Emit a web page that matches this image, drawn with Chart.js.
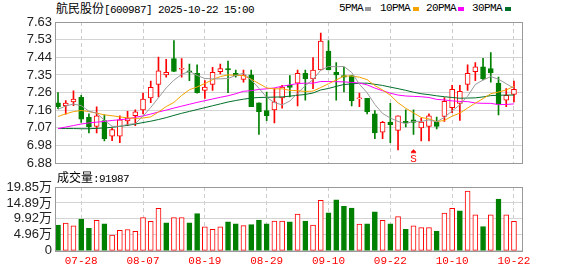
<!DOCTYPE html>
<html>
<head>
<meta charset="utf-8">
<script src="https://cdn.jsdelivr.net/npm/chart.js@4/dist/chart.umd.min.js"></script>
<style>
body { margin: 0; background: #fff; width: 578px; height: 276px; overflow: hidden; position: relative; font-family: "Noto Sans CJK SC", sans-serif; }
canvas { position: absolute; left: 0; }
#kline { top: 0; }
#vol { top: 172px; }
.txt { position: absolute; font-size: 12px; line-height: 14px; color: #000; white-space: nowrap; }
.mono { font-family: "Liberation Mono", monospace; font-size: 11px; letter-spacing: -0.6px; }
.sw { position: absolute; width: 6px; height: 4px; top: 7px; }
</style>
</head>
<body>
<div class="txt" style="left:56px;top:1px">航民股份<span class="mono">[600987] 2025-10-22 15:00</span></div>
<div class="txt mono" style="left:339px;top:1px">5PMA</div><div class="sw" style="left:365px;background:#999999"></div>
<div class="txt mono" style="left:380px;top:1px">10PMA</div><div class="sw" style="left:413px;background:#f5a300"></div>
<div class="txt mono" style="left:426px;top:1px">20PMA</div><div class="sw" style="left:458px;background:#ff00ff"></div>
<div class="txt mono" style="left:472px;top:1px">30PMA</div><div class="sw" style="left:505px;background:#006f2a"></div>
<canvas id="kline" width="578" height="174"></canvas>
<canvas id="vol" width="578" height="104"></canvas>
<div class="txt" id="volTitle" style="left:57px;top:170px"></div>
<script>
const dates = ['07-23','07-24','07-25','07-28','07-29','07-30','07-31','08-01','08-04','08-05',
  '08-06','08-07','08-08','08-11','08-12','08-13','08-14','08-15','08-18','08-19',
  '08-20','08-21','08-22','08-25','08-26','08-27','08-28','08-29','09-01','09-02',
  '09-03','09-04','09-05','09-08','09-09','09-10','09-11','09-12','09-15','09-16',
  '09-17','09-18','09-19','09-22','09-23','09-24','09-25','09-26','09-29','09-30',
  '10-09','10-10','10-13','10-14','10-15','10-16','10-17','10-20','10-21','10-22'];

const opens = [7.200, 7.185, 7.205, 7.230, 7.123, 7.076, 7.107, 7.024, 7.024, 7.105,
  7.132, 7.163, 7.227, 7.298, 7.349, 7.436, 7.379, 7.371, 7.357, 7.267,
  7.298, 7.366, 7.383, 7.357, 7.325, 7.349, 7.201, 7.159, 7.163, 7.227,
  7.293, 7.305, 7.357, 7.328, 7.375, 7.475, 7.363, 7.345, 7.345, 7.222,
  7.224, 7.142, 7.045, 7.099, 7.054, 7.102, 7.111, 7.068, 7.076, 7.099,
  7.128, 7.175, 7.198, 7.298, 7.366, 7.392, 7.383, 7.305, 7.215, 7.245];
const highs = [7.255, 7.213, 7.265, 7.240, 7.142, 7.180, 7.137, 7.067, 7.132, 7.155,
  7.163, 7.253, 7.316, 7.444, 7.432, 7.531, 7.436, 7.406, 7.403, 7.319,
  7.389, 7.406, 7.423, 7.375, 7.375, 7.375, 7.201, 7.258, 7.276, 7.293,
  7.345, 7.375, 7.375, 7.441, 7.571, 7.531, 7.415, 7.389, 7.345, 7.253,
  7.224, 7.160, 7.102, 7.198, 7.132, 7.163, 7.163, 7.120, 7.142, 7.125,
  7.229, 7.293, 7.293, 7.403, 7.415, 7.437, 7.467, 7.337, 7.276, 7.316];
const lows = [7.170, 7.141, 7.185, 7.097, 7.041, 7.041, 6.998, 7.000, 6.989, 7.080,
  7.080, 7.142, 7.201, 7.232, 7.337, 7.366, 7.337, 7.319, 7.252, 7.224,
  7.267, 7.354, 7.255, 7.337, 7.311, 7.180, 7.033, 7.106, 7.094, 7.172,
  7.232, 7.184, 7.215, 7.276, 7.375, 7.375, 7.215, 7.258, 7.184, 7.180,
  7.142, 7.010, 7.010, 6.989, 6.951, 7.073, 7.033, 6.998, 6.998, 7.062,
  7.102, 7.149, 7.107, 7.267, 7.319, 7.323, 7.311, 7.137, 7.180, 7.206];
const closes = [7.180, 7.199, 7.220, 7.114, 7.073, 7.132, 7.010, 7.059, 7.111, 7.120,
  7.153, 7.220, 7.283, 7.371, 7.363, 7.367, 7.383, 7.363, 7.255, 7.284,
  7.363, 7.383, 7.375, 7.343, 7.348, 7.180, 7.154, 7.132, 7.206, 7.284,
  7.282, 7.357, 7.328, 7.375, 7.528, 7.375, 7.349, 7.337, 7.212, 7.225,
  7.154, 7.041, 7.097, 7.085, 7.132, 7.094, 7.097, 7.099, 7.132, 7.076,
  7.208, 7.272, 7.262, 7.357, 7.392, 7.328, 7.359, 7.192, 7.241, 7.272];

const volumes = [80400, 86100, 77600, 98400, 69900, 94700, 84100, 49000, 63300, 66200,
  60500, 103200, 91800, 131800, 87000, 103200, 103200, 87000, 115500, 74700,
  67000, 74700, 89800, 84100, 78400, 81300, 95500, 84100, 92700, 92700,
  89800, 114600, 92700, 80400, 157400, 118400, 158300, 138300, 132600, 83300,
  84100, 121200, 94700, 84100, 106100, 67000, 77600, 71900, 71900, 61300,
  117500, 131800, 124100, 186000, 111800, 75600, 111800, 161100, 111800, 91987];

const ma5 = [7.166, 7.184, 7.194, 7.186, 7.156, 7.146, 7.108, 7.076, 7.076, 7.086,
  7.090, 7.130, 7.176, 7.228, 7.280, 7.321, 7.352, 7.368, 7.346, 7.330,
  7.328, 7.328, 7.330, 7.346, 7.358, 7.322, 7.278, 7.230, 7.202, 7.190,
  7.210, 7.252, 7.292, 7.324, 7.374, 7.394, 7.392, 7.394, 7.362, 7.300,
  7.254, 7.192, 7.144, 7.120, 7.102, 7.090, 7.102, 7.102, 7.110, 7.100,
  7.124, 7.158, 7.190, 7.236, 7.298, 7.322, 7.340, 7.326, 7.302, 7.278];
const ma10 = [7.128, 7.142, 7.154, 7.160, 7.154, 7.146, 7.137, 7.132, 7.126, 7.121,
  7.118, 7.120, 7.126, 7.152, 7.181, 7.203, 7.240, 7.270, 7.285, 7.303,
  7.324, 7.340, 7.349, 7.347, 7.345, 7.326, 7.303, 7.280, 7.275, 7.275,
  7.267, 7.265, 7.261, 7.263, 7.282, 7.302, 7.322, 7.343, 7.343, 7.337,
  7.324, 7.292, 7.269, 7.241, 7.201, 7.172, 7.147, 7.123, 7.115, 7.101,
  7.107, 7.130, 7.146, 7.173, 7.199, 7.223, 7.249, 7.258, 7.269, 7.288];
const ma20 = [7.064, 7.072, 7.080, 7.088, 7.094, 7.098, 7.102, 7.107, 7.111, 7.115,
  7.124, 7.131, 7.141, 7.152, 7.162, 7.173, 7.183, 7.193, 7.203, 7.212,
  7.221, 7.230, 7.238, 7.249, 7.262, 7.265, 7.272, 7.275, 7.280, 7.289,
  7.296, 7.303, 7.305, 7.305, 7.314, 7.314, 7.313, 7.312, 7.309, 7.306,
  7.296, 7.279, 7.265, 7.252, 7.242, 7.237, 7.235, 7.233, 7.229, 7.219,
  7.216, 7.211, 7.208, 7.207, 7.200, 7.198, 7.198, 7.191, 7.192, 7.195];
const ma30 = [7.064, 7.064, 7.064, 7.063, 7.063, 7.065, 7.067, 7.071, 7.076, 7.081,
  7.088, 7.096, 7.103, 7.112, 7.122, 7.134, 7.145, 7.155, 7.165, 7.175,
  7.185, 7.195, 7.205, 7.213, 7.220, 7.226, 7.229, 7.230, 7.231, 7.232,
  7.236, 7.241, 7.245, 7.253, 7.269, 7.277, 7.288, 7.298, 7.301, 7.305,
  7.305, 7.299, 7.293, 7.284, 7.276, 7.267, 7.257, 7.249, 7.244, 7.238,
  7.233, 7.229, 7.225, 7.226, 7.227, 7.232, 7.239, 7.241, 7.242, 7.242];

const priceTicks = ['6.88', '6.98', '7.07', '7.16', '7.26', '7.35', '7.44', '7.53', '7.63'];
const priceMin = 6.88, priceMax = 7.63;
const volTicks = ['0', '4.96万', '9.92万', '14.89万', '19.85万'];
const volMax = 198500;
const signalIndex = 46;

const RED = '#ff0000', GREEN = '#008000';
const up = closes.map((c, i) => c >= opens[i]);
const volUp = closes.map((c, i) => c > (i ? closes[i - 1] : opens[0]));
const dateTicks = dates.map((d, i) => i).filter(i => i % 8 === 3);
const xy = arr => arr.map((v, i) => ({ x: i, y: v }));

document.getElementById('volTitle').innerHTML = '成交量<span class="mono">:' + volumes[volumes.length - 1] + '</span>';

Chart.defaults.font.family = '"Liberation Sans", "Noto Sans CJK SC", sans-serif';
Chart.defaults.animation = false;

// frame around plot area
const frame = {
    id: 'frame',
    afterDraw(chart) {
        const { ctx, chartArea: a } = chart;
        ctx.save();
        ctx.strokeStyle = '#999999';
        ctx.lineWidth = 1;
        ctx.strokeRect(Math.round(a.left) + 0.5, Math.round(a.top) + 0.5,
            Math.round(a.right - a.left), Math.round(a.bottom - a.top));
        ctx.restore();
    },
};

// buy/sell marker under the candles
const signal = {
    id: 'signal',
    afterDatasetsDraw(chart) {
        const { ctx, chartArea, scales } = chart;
        const x = Math.round(scales.x.getPixelForValue(signalIndex));
        const b = chartArea.bottom;
        ctx.save();
        ctx.fillStyle = RED;
        ctx.beginPath();
        ctx.moveTo(x + 0.5, b - 14);
        ctx.lineTo(x - 2.5, b - 11);
        ctx.lineTo(x + 3.5, b - 11);
        ctx.closePath();
        ctx.fill();
        ctx.fillRect(x - 2, b - 11, 5, 1);
        ctx.font = '11px "Liberation Mono"';
        ctx.textAlign = 'center';
        ctx.textBaseline = 'bottom';
        ctx.fillText('S', x + 0.5, b + 1);
        ctx.restore();
    },
};

function xAxis(showLabels) {
    return {
        type: 'linear',
        offset: false,
        min: -0.39,
        max: 60.04,
        afterBuildTicks: s => { s.ticks = dateTicks.map(v => ({ value: v })); },
        grid: { color: '#cccccc', drawTicks: false, offset: false },
        border: { display: false, dash: [4, 3] },
        ticks: {
            display: showLabels,
            callback: v => dates[v],
            color: RED,
            font: { family: '"Liberation Mono", monospace', size: 11 },
            padding: 4,
            maxRotation: 0,
            autoSkip: false,
        },
    };
}

function yAxis(min, max, labels) {
    return {
        min: min,
        max: max,
        afterBuildTicks: s => {
            s.ticks = labels.map((t, k) => ({ value: min + k * (max - min) / (labels.length - 1) }));
        },
        afterFit: s => { s.width = 55; },
        grid: { color: '#d4d4d4', drawTicks: false },
        border: { display: false },
        ticks: {
            callback: (v, k) => labels[k],
            color: '#222222',
            font: { size: 13 },
            padding: 3,
            autoSkip: false,
        },
    };
}

function maLine(data, color) {
    return {
        type: 'line',
        data: xy(data),
        borderColor: color,
        borderWidth: 1,
        pointRadius: 0,
        order: 0,
    };
}

new Chart(document.getElementById('kline'), {
    type: 'bar',
    data: {
        datasets: [
            maLine(ma5, '#999999'),
            maLine(ma10, '#f5a300'),
            maLine(ma20, '#ff00ff'),
            maLine(ma30, '#006f2a'),
            {
                data: opens.map((o, i) => ({ x: i, y: [o, closes[i]] })),
                backgroundColor: up.map(u => (u ? '#ffffff' : GREEN)),
                borderColor: up.map(u => (u ? RED : GREEN)),
                borderWidth: 1,
                borderSkipped: false,
                barThickness: 5,
                minBarLength: 1,
                grouped: false,
                order: 1,
            },
            {
                data: lows.map((l, i) => ({ x: i, y: [l, highs[i]] })),
                backgroundColor: up.map(u => (u ? RED : GREEN)),
                barThickness: 1,
                grouped: false,
                order: 2,
            },
        ],
    },
    options: {
        responsive: false,
        layout: { padding: { top: 22, right: 56, bottom: 8, left: 0 } },
        plugins: { legend: { display: false }, tooltip: { enabled: false } },
        scales: {
            x: xAxis(false),
            y: yAxis(priceMin, priceMax, priceTicks),
        },
    },
    plugins: [frame, signal],
});

new Chart(document.getElementById('vol'), {
    type: 'bar',
    data: {
        datasets: [
            {
                data: xy(volumes),
                backgroundColor: volUp.map(u => (u ? '#ffffff' : GREEN)),
                borderColor: volUp.map(u => (u ? RED : GREEN)),
                borderWidth: 1,
                borderSkipped: false,
                barThickness: 5,
            },
        ],
    },
    options: {
        responsive: false,
        layout: { padding: { top: 15, right: 56, bottom: 4, left: 0 } },
        plugins: { legend: { display: false }, tooltip: { enabled: false } },
        scales: {
            x: xAxis(true),
            y: yAxis(0, volMax, volTicks),
        },
    },
    plugins: [frame],
});
</script>
</body>
</html>
